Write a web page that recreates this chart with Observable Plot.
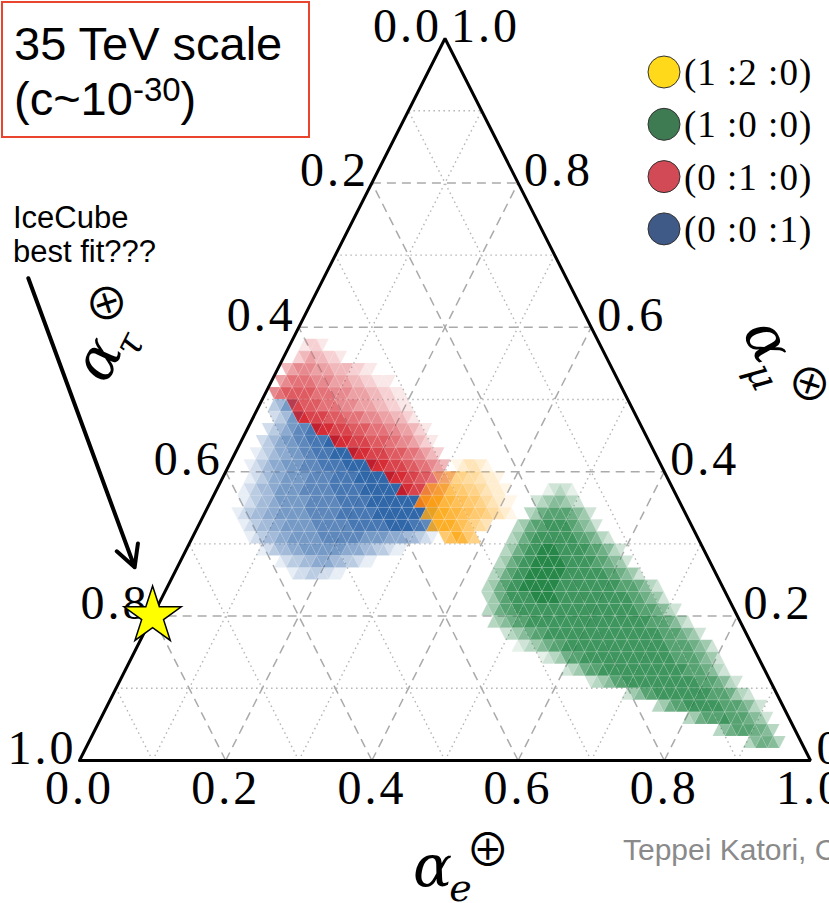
<!DOCTYPE html>
<html><head><meta charset="utf-8">
<script src="https://cdn.jsdelivr.net/npm/d3@7"></script>
<script src="https://cdn.jsdelivr.net/npm/@observablehq/plot@0.6"></script>
<style>
html,body{margin:0;padding:0;background:#fff;}
#chart{width:829px;height:903px;overflow:hidden;position:relative;}
</style></head><body><div id="chart"></div>
<script>
// ---------------- data ----------------
const N = 60; // triangular bins per side
const gridTicks = [0.1, 0.2, 0.3, 0.4, 0.5, 0.6, 0.7, 0.8, 0.9];
const axisTicks = [0, 0.2, 0.4, 0.6, 0.8, 1.0];
const axisTickLabels = ["0.0", "0.2", "0.4", "0.6", "0.8", "1.0"];
const legendLabels = ["(1 :2 :0)", "(1 :0 :0)", "(0 :1 :0)", "(0 :0 :1)"];
const legendColors = ["#ffd91a", "#3e7a52", "#d24a55", "#405a88"];
const iceCube = [{e: 0.0, mu: 0.2, tau: 0.8}];
const titleText = ["35 TeV scale", "(c~10", "-30", ")"];
const noteLines = ["IceCube", "best fit???"];
const creditText = "Teppei Katori, C";

// density of each source composition: [row (mu bin), first cell index, opacity levels 1-9]
const blueRows = [
  [15, 19, "122332211"],
  [16, 16, "1233445554433211"],
  [17, 12, "123445566666665554433211"],
  [18, 9,  "1234455666667777777666655544321"],
  [19, 7,  "12344556666677777788888899998876"],
  [20, 5,  "123445566666777778888889999999988"],
  [21, 5,  "123445666667777788888999999998"],
  [22, 4,  "123445666677777888889999999"],
  [23, 4,  "123455666677778888999999"],
  [24, 3,  "123455666777888899999"],
  [25, 3,  "12345566778889999"],
  [26, 3,  "2345667788899"],
  [27, 3,  "234567788"],
  [28, 3,  "23467"],
  [29, 2,  "3466"]
];
const redRows = [
  [21, 34, "9876"],
  [22, 30, "99887654"],
  [23, 27, "99988776543"],
  [24, 23, "9998887766543"],
  [25, 19, "999888777665432"],
  [26, 15, "99988877766554321"],
  [27, 11, "9998887776665544321"],
  [28, 7,  "89888777666555443321"],
  [29, 5,  "78777666555444332211"],
  [30, 1,  "5677777666555444332211"],
  [31, 1,  "4566665554443322111"],
  [32, 1,  "345554443332211"],
  [33, 2,  "23433221"],
  [34, 2,  "1221"]
];
const orangeRows = [
  [18, 41, "679865"],
  [19, 38, "8999876543"],
  [20, 36, "899988776654321"],
  [21, 34, "7899887766543211"],
  [22, 34, "56777665543221"],
  [23, 35, "34555443221"],
  [24, 37, "123321"]
];
const greenRows = [
  [1, 108, "356653"],
  [2, 102, "3567776653"],
  [3, 96,  "34677787776542"],
  [4, 90,  "346778888887776532"],
  [5, 84,  "245778888888887776432"],
  [6, 77,  "2345778888888888887776532"],
  [7, 72,  "234677888888888888887776532"],
  [8, 67,  "123467788888888888888877776542"],
  [9, 62,  "123456778888888888888888877776542"],
  [10, 59, "234567788888888888888888887776542"],
  [11, 56, "345677888888888888888888887776532"],
  [12, 54, "34677888888888888888888887776532"],
  [13, 53, "346788889999888888888888776542"],
  [14, 52, "34678899999988888888887776532"],
  [15, 52, "3467889999998888888776542"],
  [16, 52, "3467889999988888776542"],
  [17, 52, "34678899988888776532"],
  [18, 52, "34678888888776532"],
  [19, 52, "34677888876542"],
  [20, 53, "34677776542"],
  [21, 53, "23455432"],
  [22, 54, "12321"]
];

// ---------------- helpers ----------------
const cx = (e, mu) => e + mu / 2; // ternary -> cartesian x, y = mu

function buildCells(rows, name) {
  const pts = [];
  for (const [r, k0, levels] of rows) {
    for (let i = 0; i < levels.length; i++) {
      const lv = +levels[i];
      if (!lv) continue;
      const k = k0 + i;
      const id = name + "-" + r + "-" + k;
      const yb = r / N, yt = (r + 1) / N;
      if (k % 2 === 0) {
        const a = k / 2;
        const xl = a / N + r / (2 * N), xr = (a + 1) / N + r / (2 * N), xm = (xl + xr) / 2;
        pts.push({id, lv, x: xl, y1: yb, y2: yb}, {id, lv, x: xm, y1: yb, y2: yt}, {id, lv, x: xr, y1: yb, y2: yb});
      } else {
        const a = (k - 1) / 2;
        const xl = a / N + (r + 1) / (2 * N), xr = (a + 1) / N + (r + 1) / (2 * N), xm = (xl + xr) / 2;
        pts.push({id, lv, x: xl, y1: yt, y2: yt}, {id, lv, x: xm, y1: yb, y2: yt}, {id, lv, x: xr, y1: yt, y2: yt});
      }
    }
  }
  return pts;
}

const grid = [];
for (const v of gridTicks) {
  const major = Math.round(v * 10) % 2 === 0;
  grid.push({major, x1: v / 2, y1: v, x2: 1 - v / 2, y2: v});               // const mu
  grid.push({major, x1: v, y1: 0, x2: v + (1 - v) / 2, y2: 1 - v});         // const e
  grid.push({major, x1: 1 - v, y1: 0, x2: (1 - v) / 2, y2: 1 - v});         // const tau
}
const corners = [{e: 0, mu: 0}, {e: 1, mu: 0}, {e: 0, mu: 1}, {e: 0, mu: 0}];
const bottomLabels = axisTicks.map((v, i) => ({x: cx(v, 0), y: 0, label: axisTickLabels[i]}));
const leftLabels = axisTicks.map((t, i) => ({x: cx(0, 1 - t), y: 1 - t, label: axisTickLabels[i]}));
const rightLabels = axisTicks.map((m, i) => ({x: cx(1 - m, m), y: m, label: axisTickLabels[i]}));

const cellStyle = {x: "x", y1: "y1", y2: "y2", z: "id", fillOpacity: d => d.lv / 10,
  stroke: "white", strokeWidth: 0.5, strokeOpacity: 0.25, curve: "linear"};
const numFont = "'Liberation Serif', 'Times New Roman', serif";

const plot = Plot.plot({
  width: 829, height: 903,
  marginLeft: 79, marginRight: 19, marginTop: 38, marginBottom: 143,
  x: {domain: [0, 1], axis: null},
  y: {domain: [0, 1], axis: null},
  style: {background: "white"},
  marks: [
    Plot.link(grid.filter(d => !d.major), {x1: "x1", y1: "y1", x2: "x2", y2: "y2", stroke: "#b4b4b4", strokeWidth: 1.4, strokeDasharray: "1.5,3.5"}),
    Plot.link(grid.filter(d => d.major), {x1: "x1", y1: "y1", x2: "x2", y2: "y2", stroke: "#aaaaaa", strokeWidth: 1.5, strokeDasharray: "9,6"}),
    Plot.areaY(buildCells(blueRows, "b"), {...cellStyle, fill: "#1a56a0"}),
    Plot.areaY(buildCells(redRows, "r"), {...cellStyle, fill: "#d0151f"}),
    Plot.areaY(buildCells(orangeRows, "o"), {...cellStyle, fill: "#fda50f"}),
    Plot.areaY(buildCells(greenRows, "g"), {...cellStyle, fill: "#0e7a35"}),
    Plot.line(corners, {x: d => cx(d.e, d.mu), y: "mu", stroke: "black", strokeWidth: 3, strokeLinejoin: "miter"}),
    Plot.text(bottomLabels, {x: "x", y: "y", text: "label", dy: 28, fontSize: 48, fontFamily: numFont, fill: "black"}),
    Plot.text(leftLabels, {x: "x", y: "y", text: "label", dx: -3, dy: -12, textAnchor: "end", fontSize: 48, fontFamily: numFont, fill: "black"}),
    Plot.text(rightLabels, {x: "x", y: "y", text: "label", dx: 6, dy: -12, textAnchor: "start", fontSize: 48, fontFamily: numFont, fill: "black"}),
    Plot.arrow(iceCube, {x1: () => -0.07, y1: () => 0.668, x2: d => cx(d.e, d.mu), y2: "mu", insetEnd: 52, stroke: "black", strokeWidth: 4, headLength: 9, headAngle: 56}),
    Plot.dot(iceCube, {x: d => cx(d.e, d.mu), y: "mu", symbol: "star", r: 18, fill: "#ffff00", stroke: "black", strokeWidth: 1.5})
  ]
});
document.getElementById("chart").appendChild(plot);

// letter spacing for the serif tick labels
d3.select(plot).selectAll('g[aria-label="text"] text').attr("letter-spacing", 3);

// ---------------- annotations ----------------
const g = d3.select(plot).append("g").attr("text-anchor", "start");
const sans = "'Liberation Sans', Arial, sans-serif";

// title box
g.append("rect").attr("x", 2).attr("y", 2).attr("width", 307).attr("height", 135)
  .attr("fill", "white").attr("stroke", "#e8442e").attr("stroke-width", 2);
g.append("text").attr("x", 14).attr("y", 60).attr("font-family", sans).attr("font-size", 47).text(titleText[0]);
const t2 = g.append("text").attr("x", 14).attr("y", 115).attr("font-family", sans).attr("font-size", 47);
t2.append("tspan").text(titleText[1]);
t2.append("tspan").attr("font-size", 33).attr("dy", -14).text(titleText[2]);
t2.append("tspan").attr("dy", 14).text(titleText[3]);

// legend
legendLabels.forEach((lab, i) => {
  const cy = 72 + i * 52.3;
  g.append("circle").attr("cx", 664).attr("cy", cy).attr("r", 16)
    .attr("fill", legendColors[i]).attr("stroke", "#333").attr("stroke-width", 1);
  g.append("text").attr("x", 684).attr("y", cy + 13).attr("font-family", numFont)
    .attr("font-size", 37).attr("letter-spacing", 1).text(lab);
});

// IceCube note
noteLines.forEach((s, i) => {
  g.append("text").attr("x", 13).attr("y", 228 + i * 34).attr("font-family", sans).attr("font-size", 31).text(s);
});

// credit
g.append("text").attr("x", 623).attr("y", 860).attr("font-family", sans).attr("font-size", 30)
  .attr("fill", "#8a8a8a").text(creditText);

// axis titles
function axisTitle(x, y, rot, sub, sup) {
  const t = g.append("text").attr("transform", `translate(${x},${y}) rotate(${rot})`)
    .attr("font-family", "'DejaVu Serif', serif").attr("fill", "black");
  t.append("tspan").attr("font-style", "italic").attr("font-size", 58).text("\u03B1");
  t.append("tspan").attr("font-style", "italic").attr("font-size", 38).attr("dx", -3).attr("dy", 15).text(sub);
  t.append("tspan").attr("font-family", "'Noto Sans CJK JP', 'Noto Sans CJK SC', 'DejaVu Sans', sans-serif").attr("font-style", "normal")
    .attr("font-size", 44).attr("dx", -6).attr("dy", -35).text(sup);
}
axisTitle(413, 886, 0, "e", "\u2295");
axisTitle(106, 385, -63, "\u03C4", "\u2297");
axisTitle(742, 332, 63, "\u03BC", "\u2297");
</script>
</body></html>
